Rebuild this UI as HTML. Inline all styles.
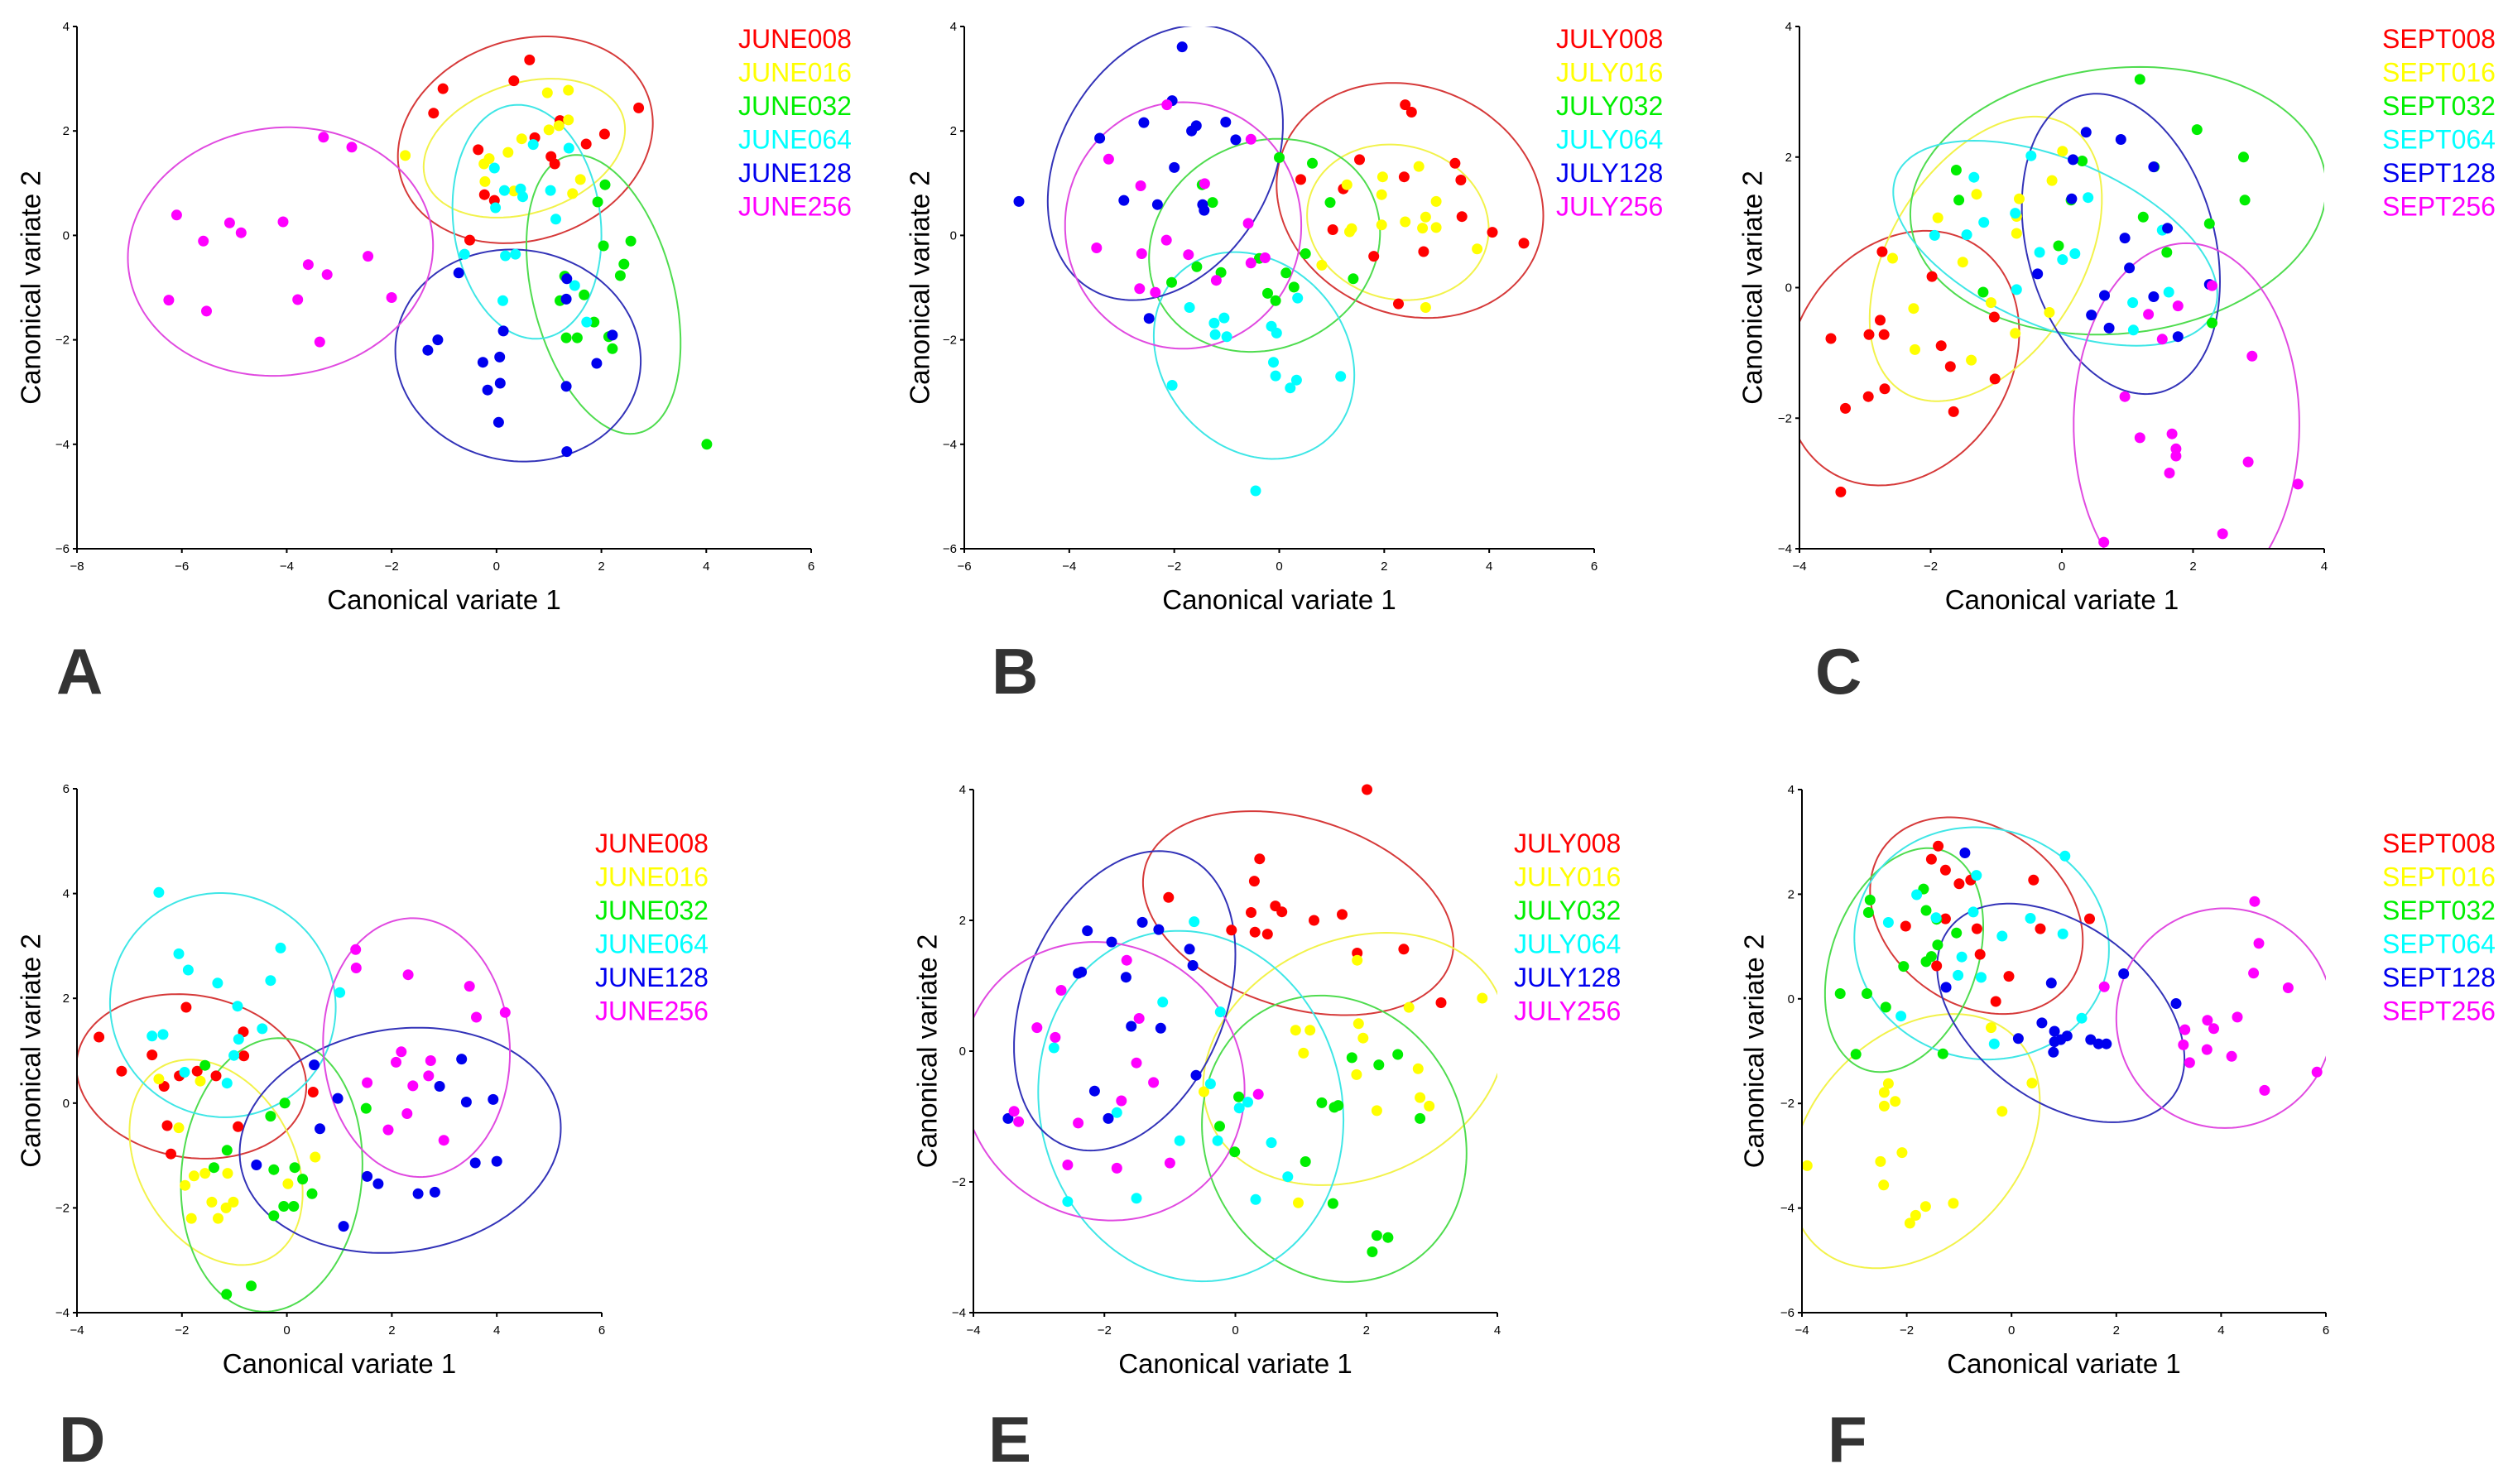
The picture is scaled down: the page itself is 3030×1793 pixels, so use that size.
<!DOCTYPE html>
<html><head><meta charset="utf-8"><style>
html,body{margin:0;padding:0;background:#fff;}
svg{display:block;font-family:"Liberation Sans",Arial,sans-serif;}
</style></head><body>
<svg id="fig" width="3030" height="1793" viewBox="0 0 3030 1793" xmlns="http://www.w3.org/2000/svg">
<rect width="3030" height="1793" fill="#fff"/>
</svg>
<script>
// ---------- DATA: points [x,y] per group ----------
const A_JUNE008=[[0.63,3.36],[0.33,2.96],[-1.02,2.81],[-1.20,2.34],[1.21,2.20],[2.71,2.44],[2.06,1.94],[0.73,1.87],[-0.35,1.64],[1.04,1.51],[1.11,1.37],[1.71,1.75],[-0.23,0.78],[-0.04,0.67],[-0.51,-0.09]];
const A_JUNE016=[[-1.74,1.53],[0.97,2.73],[1.37,2.78],[1.37,2.21],[1.19,2.10],[1.0,2.02],[0.48,1.85],[0.22,1.59],[-0.14,1.47],[-0.24,1.37],[-0.22,1.03],[1.60,1.07],[1.45,0.80],[0.33,0.85]];
const A_JUNE032=[[2.07,0.97],[1.93,0.64],[2.04,-0.20],[2.56,-0.11],[2.43,-0.55],[2.36,-0.77],[1.30,-0.78],[1.67,-1.14],[1.21,-1.25],[1.86,-1.66],[1.33,-1.96],[1.54,-1.96],[2.14,-1.94],[2.21,-2.17],[4.01,-4.0]];
const A_JUNE064=[[0.70,1.74],[1.38,1.67],[-0.04,1.29],[0.15,0.86],[0.46,0.89],[0.50,0.74],[1.03,0.86],[-0.02,0.53],[1.13,0.31],[-0.61,-0.36],[0.17,-0.39],[0.36,-0.36],[1.49,-0.96],[0.12,-1.25],[1.72,-1.66]];
const A_JUNE128=[[-0.72,-0.72],[1.34,-0.83],[1.33,-1.22],[0.13,-1.83],[-1.12,-2.0],[-1.31,-2.20],[-0.26,-2.43],[0.06,-2.33],[-0.17,-2.96],[0.07,-2.83],[0.04,-3.58],[1.33,-2.89],[1.91,-2.45],[2.21,-1.91],[1.34,-4.14]];
const A_JUNE256=[[-3.30,1.88],[-2.76,1.69],[-6.10,0.39],[-5.09,0.24],[-4.87,0.05],[-4.07,0.26],[-5.59,-0.11],[-3.59,-0.56],[-3.23,-0.75],[-2.45,-0.40],[-6.25,-1.24],[-5.53,-1.45],[-3.79,-1.23],[-2.0,-1.19],[-3.37,-2.04]];

const B_JULY008=[[2.40,2.50],[2.52,2.36],[1.53,1.45],[3.35,1.38],[3.46,1.06],[2.38,1.12],[0.41,1.07],[1.22,0.89],[3.48,0.36],[1.02,0.11],[4.06,0.06],[4.66,-0.15],[2.75,-0.31],[1.80,-0.40],[2.27,-1.31]];
const B_JULY016=[[2.66,1.32],[1.97,1.12],[1.29,0.97],[1.95,0.78],[2.99,0.65],[2.79,0.35],[1.95,0.20],[2.40,0.26],[2.73,0.14],[2.99,0.15],[1.38,0.13],[1.34,0.07],[3.77,-0.26],[0.81,-0.57],[2.79,-1.38]];
const B_JULY032=[[0,1.49],[0.63,1.38],[-1.47,0.97],[-1.27,0.63],[0.97,0.63],[0.50,-0.35],[-1.57,-0.60],[-1.11,-0.71],[0.13,-0.72],[-2.05,-0.90],[-0.22,-1.11],[0.28,-0.99],[-0.07,-1.25],[1.41,-0.83],[-0.38,-0.44]];
const B_JULY064=[[-1.71,-1.38],[-1.24,-1.68],[-1.05,-1.58],[-1.22,-1.90],[-1.0,-1.94],[-0.15,-1.74],[-0.05,-1.87],[0.35,-1.20],[-0.11,-2.43],[-0.07,-2.69],[0.21,-2.92],[0.33,-2.77],[1.17,-2.70],[-2.04,-2.87],[-0.45,-4.89]];
const B_JULY128=[[-1.85,3.61],[-2.04,2.58],[-2.58,2.16],[-1.58,2.10],[-1.67,2.0],[-1.02,2.17],[-0.83,1.83],[-3.42,1.86],[-2.0,1.30],[-2.96,0.67],[-2.32,0.59],[-1.46,0.59],[-1.43,0.48],[-4.96,0.65],[-2.48,-1.59]];
const B_JULY256=[[-2.14,2.50],[-0.54,1.84],[-3.25,1.46],[-1.42,0.99],[-2.64,0.95],[-0.59,0.23],[-2.15,-0.09],[-3.48,-0.24],[-2.62,-0.35],[-1.73,-0.37],[-0.54,-0.53],[-0.27,-0.43],[-1.20,-0.86],[-2.66,-1.02],[-2.36,-1.09]];

const C_SEPT008=[[-2.74,0.55],[-1.98,0.17],[-2.77,-0.50],[-2.94,-0.72],[-2.71,-0.72],[-3.52,-0.78],[-1.84,-0.89],[-1.03,-0.45],[-1.70,-1.21],[-1.02,-1.40],[-2.70,-1.55],[-2.95,-1.67],[-3.30,-1.85],[-1.65,-1.90],[-3.37,-3.13]];
const C_SEPT016=[[0.01,2.09],[-0.15,1.64],[-1.30,1.43],[-0.65,1.36],[-1.89,1.07],[-0.69,0.83],[-2.58,0.45],[-1.51,0.39],[-1.08,-0.23],[-2.26,-0.32],[-0.19,-0.38],[-2.24,-0.95],[-1.38,-1.11],[-0.71,-0.70],[-0.69,1.09]];
const C_SEPT032=[[1.19,3.19],[2.06,2.42],[2.77,2.0],[2.79,1.34],[0.31,1.94],[-1.61,1.80],[-1.57,1.34],[1.24,1.08],[2.25,0.98],[-0.05,0.64],[1.60,0.54],[-1.20,-0.07],[2.29,-0.54],[0.14,1.34],[1.41,1.85]];
const C_SEPT064=[[-0.47,2.02],[-1.34,1.69],[0.40,1.38],[-0.71,1.14],[-1.19,1.0],[-1.94,0.80],[-1.45,0.81],[-0.34,0.54],[0.20,0.52],[0.01,0.43],[-0.69,-0.03],[1.63,-0.07],[1.08,-0.23],[1.09,-0.65],[1.53,0.88]];
const C_SEPT128=[[0.37,2.38],[0.90,2.27],[0.17,1.96],[1.40,1.85],[0.15,1.36],[1.61,0.91],[0.96,0.76],[1.03,0.30],[-0.37,0.21],[2.25,0.05],[0.65,-0.12],[1.40,-0.14],[0.45,-0.42],[0.72,-0.62],[1.77,-0.75]];
const C_SEPT256=[[2.29,0.03],[1.77,-0.28],[1.32,-0.41],[1.53,-0.79],[2.90,-1.05],[0.96,-1.67],[1.19,-2.30],[1.68,-2.24],[1.74,-2.47],[1.74,-2.58],[2.84,-2.67],[1.64,-2.84],[3.60,-3.01],[2.45,-3.77],[0.64,-3.90]];

const D_JUNE008=[[-3.58,1.26],[-3.15,0.61],[-2.57,0.92],[-1.92,1.83],[-0.83,1.36],[-0.82,0.90],[-1.71,0.61],[-2.05,0.52],[-1.35,0.52],[-2.34,0.32],[-2.28,-0.43],[-0.93,-0.45],[-2.21,-0.97],[0.50,0.21]];
const D_JUNE016=[[-2.44,0.46],[-1.65,0.42],[-2.06,-0.47],[-1.94,-1.57],[-1.77,-1.39],[-1.56,-1.34],[-1.13,-1.34],[-1.43,-1.89],[-1.02,-1.89],[-1.16,-2.0],[-1.82,-2.20],[-1.31,-2.20],[0.02,-1.54],[0.54,-1.03]];
const D_JUNE032=[[-1.56,0.72],[-0.04,0],[-0.31,-0.25],[-1.14,-0.90],[-1.39,-1.23],[-0.25,-1.27],[0.15,-1.23],[0.30,-1.45],[0.48,-1.73],[-0.06,-1.97],[0.13,-1.97],[-0.25,-2.15],[-0.68,-3.49],[-1.15,-3.65],[1.51,-0.10]];
const D_JUNE064=[[-2.44,4.02],[-2.06,2.85],[-1.88,2.54],[-0.12,2.96],[-1.32,2.29],[-0.31,2.34],[-0.94,1.85],[-2.57,1.28],[-2.36,1.31],[-0.47,1.42],[-0.92,1.22],[-1.01,0.91],[-1.95,0.59],[-1.14,0.38],[1.01,2.11]];
const D_JUNE128=[[0.52,0.73],[0.97,0.09],[0.63,-0.49],[2.91,0.32],[3.33,0.84],[3.42,0.02],[3.93,0.07],[-0.58,-1.18],[1.53,-1.40],[1.74,-1.54],[2.50,-1.73],[2.82,-1.70],[3.59,-1.14],[4.0,-1.11],[1.08,-2.35]];
const D_JUNE256=[[1.31,2.93],[1.32,2.58],[2.31,2.45],[3.48,2.23],[3.61,1.64],[4.16,1.73],[2.18,0.98],[2.08,0.78],[2.74,0.81],[1.53,0.39],[2.40,0.33],[2.70,0.52],[2.29,-0.20],[1.93,-0.51],[2.99,-0.71]];

const E_JULY008=[[2.01,4.0],[0.37,2.94],[0.29,2.60],[-1.02,2.35],[0.61,2.22],[0.71,2.13],[0.24,2.12],[1.20,2.0],[1.63,2.09],[-0.06,1.85],[0.30,1.82],[0.49,1.79],[1.86,1.50],[2.57,1.56],[3.14,0.74]];
const E_JULY016=[[1.86,1.39],[2.65,0.67],[3.77,0.81],[1.88,0.42],[0.92,0.32],[1.14,0.32],[1.95,0.20],[1.04,-0.03],[1.85,-0.36],[2.79,-0.27],[2.82,-0.71],[2.96,-0.84],[2.16,-0.91],[0.96,-2.32],[-0.48,-0.62]];
const E_JULY032=[[1.78,-0.10],[2.19,-0.21],[2.48,-0.05],[1.32,-0.79],[1.51,-0.86],[1.57,-0.83],[0.05,-0.70],[-0.24,-1.15],[-0.01,-1.54],[1.07,-1.69],[2.82,-1.03],[1.49,-2.33],[2.16,-2.82],[2.33,-2.85],[2.09,-3.07]];
const E_JULY064=[[-0.63,1.98],[-1.11,0.75],[-0.23,0.60],[-2.77,0.05],[-0.38,-0.50],[0.06,-0.87],[0.19,-0.78],[-1.81,-0.94],[-0.85,-1.37],[-0.27,-1.37],[0.55,-1.40],[0.80,-1.92],[0.31,-2.27],[-1.51,-2.25],[-2.56,-2.30]];
const E_JULY128=[[-1.42,1.97],[-1.17,1.86],[-2.26,1.84],[-1.89,1.67],[-0.70,1.56],[-0.65,1.31],[-2.40,1.19],[-2.35,1.21],[-1.67,1.13],[-1.59,0.38],[-1.14,0.35],[-0.60,-0.37],[-2.15,-0.61],[-1.94,-1.03],[-3.47,-1.03]];
const E_JULY256=[[-1.66,1.39],[-2.66,0.93],[-3.03,0.36],[-2.75,0.21],[-1.47,0.50],[-1.51,-0.18],[-1.25,-0.48],[-1.74,-0.76],[0.35,-0.66],[-3.38,-0.92],[-3.31,-1.08],[-2.40,-1.10],[-2.56,-1.74],[-1.81,-1.79],[-1.0,-1.71]];

const F_SEPT008=[[-1.40,2.92],[-1.53,2.67],[-1.26,2.46],[-1.0,2.20],[-0.78,2.27],[0.42,2.27],[1.49,1.53],[-1.26,1.53],[-2.02,1.39],[-0.66,1.34],[0.55,1.34],[-0.60,0.85],[-1.43,0.63],[-0.05,0.43],[-0.30,-0.05]];
const F_SEPT016=[[-0.39,-0.55],[0.39,-1.61],[-0.18,-2.15],[-2.35,-1.62],[-2.43,-1.79],[-2.43,-2.05],[-2.22,-1.96],[-2.09,-2.94],[-2.50,-3.11],[-2.44,-3.56],[-1.11,-3.91],[-1.64,-3.97],[-1.83,-4.14],[-1.94,-4.29],[-3.90,-3.19]];
const F_SEPT032=[[-1.68,2.10],[-2.70,1.89],[-2.73,1.65],[-1.63,1.69],[-1.43,1.52],[-1.05,1.26],[-1.41,1.03],[-1.53,0.81],[-1.63,0.71],[-2.06,0.62],[-3.27,0.10],[-2.76,0.10],[-2.40,-0.16],[-2.97,-1.06],[-1.31,-1.05]];
const F_SEPT064=[[1.02,2.73],[-0.67,2.36],[-1.81,1.99],[-0.73,1.66],[-2.35,1.46],[-1.44,1.55],[0.36,1.54],[0.98,1.24],[-0.18,1.20],[-0.95,0.80],[-1.02,0.45],[-0.58,0.41],[-2.11,-0.33],[1.34,-0.37],[-0.33,-0.86]];
const F_SEPT128=[[-0.89,2.79],[-1.25,0.22],[0.76,0.30],[2.14,0.48],[3.14,-0.09],[0.58,-0.46],[0.13,-0.76],[0.82,-0.62],[0.80,-1.02],[0.82,-0.82],[0.94,-0.78],[1.06,-0.71],[1.51,-0.78],[1.66,-0.86],[1.81,-0.86]];
const F_SEPT256=[[4.64,1.86],[4.72,1.06],[4.62,0.49],[5.28,0.21],[1.77,0.23],[3.31,-0.59],[3.74,-0.41],[3.86,-0.57],[4.31,-0.35],[3.28,-0.88],[3.73,-0.97],[4.20,-1.10],[3.40,-1.22],[5.83,-1.40],[4.83,-1.75]];

// ---------- DATA: ellipses [cx, cy, sx, sy, rho] per group ----------
const A_ELLIPSES=[[0.55,1.83,2.43,1.98,0.16],[0.53,1.67,1.92,1.33,0.27],[2.04,-1.13,1.47,2.67,-0.35],[0.58,0.26,1.42,2.24,-0.12],[0.41,-2.30,2.34,2.03,-0.05],[-4.12,-0.31,2.91,2.38,0.05]];
const B_ELLIPSES=[[2.49,0.67,2.54,2.25,-0.13],[2.26,0.25,1.73,1.49,-0.09],[-0.28,-0.19,2.20,2.04,0.12],[-0.48,-2.30,1.91,1.98,-0.19],[-2.17,1.39,2.24,2.63,0.28],[-1.83,0.19,2.25,2.36,0.0]];
const C_ELLIPSES=[[-2.43,-1.08,1.78,1.95,0.2],[-1.16,0.44,1.77,2.18,0.42],[0.86,1.33,3.17,2.05,0.1],[-0.10,0.68,2.47,1.57,-0.5],[0.90,0.67,1.51,2.30,-0.25],[1.90,-2.10,1.72,2.78,0.0]];
const D_ELLIPSES=[[-1.82,0.51,2.19,1.57,-0.12],[-1.35,-1.13,1.65,1.96,-0.3],[-0.29,-1.37,1.73,2.61,0.08],[-1.22,1.87,2.15,2.14,-0.02],[2.16,-0.71,3.06,2.15,0.11],[2.47,1.06,1.78,2.47,-0.04]];
const E_ELLIPSES=[[0.96,2.11,2.37,1.56,-0.3],[1.82,-0.12,2.31,1.93,0.21],[1.51,-1.34,2.02,2.19,-0.1],[-0.68,-0.84,2.33,2.68,-0.08],[-1.69,0.77,1.69,2.29,0.31],[-2.02,-0.46,2.16,2.13,-0.06]];
const F_ELLIPSES=[[-0.67,1.59,2.03,1.88,-0.25],[-1.84,-2.72,2.38,2.43,0.31],[-2.05,0.74,1.51,2.14,0.3],[-0.57,1.06,2.43,2.22,-0.05],[0.94,-0.27,2.36,2.09,-0.42],[4.07,-0.37,2.07,2.10,0.0]];

// ---------- group labels & tick values ----------
const JUNE_LABELS=["JUNE008","JUNE016","JUNE032","JUNE064","JUNE128","JUNE256"];
const JULY_LABELS=["JULY008","JULY016","JULY032","JULY064","JULY128","JULY256"];
const SEPT_LABELS=["SEPT008","SEPT016","SEPT032","SEPT064","SEPT128","SEPT256"];
const A_XTICKS=[-8,-6,-4,-2,0,2,4,6], A_YTICKS=[-6,-4,-2,0,2,4];
const B_XTICKS=[-6,-4,-2,0,2,4,6], B_YTICKS=[-6,-4,-2,0,2,4];
const C_XTICKS=[-4,-2,0,2,4], C_YTICKS=[-4,-2,0,2,4];
const D_XTICKS=[-4,-2,0,2,4,6], D_YTICKS=[-4,-2,0,2,4,6];
const E_XTICKS=[-4,-2,0,2,4], E_YTICKS=[-4,-2,0,2,4];
const F_XTICKS=[-4,-2,0,2,4,6], F_YTICKS=[-6,-4,-2,0,2,4];

// ---------- styles ----------
const DOT_COLORS=["#ff0000","#ffff00","#00ee00","#00ffff","#0000ee","#ff00ff"];
const LINE_COLORS=["#d63a3a","#f2f24a","#4fdc4f","#3fe6e6","#3333b8","#e04ae0"];

const NS="http://www.w3.org/2000/svg";
const svg=document.getElementById('fig');
function mk(tag,attrs,parent){const e=document.createElementNS(NS,tag);for(const k in attrs)e.setAttribute(k,attrs[k]);(parent||svg).appendChild(e);return e;}

const panels=[
 {id:'a',letter:'A',px0:93,px1:980,py0:32,py1:663,xd:[-8,6],yd:[-6,4],xt:A_XTICKS,yt:A_YTICKS,groups:[A_JUNE008,A_JUNE016,A_JUNE032,A_JUNE064,A_JUNE128,A_JUNE256],ell:A_ELLIPSES,labels:JUNE_LABELS,lx:892,ly:47,ytx:37,lpx:68,lpy:811},
 {id:'b',letter:'B',px0:1165,px1:1926,py0:32,py1:663,xd:[-6,6],yd:[-6,4],xt:B_XTICKS,yt:B_YTICKS,groups:[B_JULY008,B_JULY016,B_JULY032,B_JULY064,B_JULY128,B_JULY256],ell:B_ELLIPSES,labels:JULY_LABELS,lx:1880,ly:47,ytx:1111,lpx:1198,lpy:811},
 {id:'c',letter:'C',px0:2174,px1:2808,py0:32,py1:663,xd:[-4,4],yd:[-4,4],xt:C_XTICKS,yt:C_YTICKS,groups:[C_SEPT008,C_SEPT016,C_SEPT032,C_SEPT064,C_SEPT128,C_SEPT256],ell:C_ELLIPSES,labels:SEPT_LABELS,lx:2878,ly:47,ytx:2117,lpx:2193,lpy:811},
 {id:'d',letter:'D',px0:93,px1:727,py0:953,py1:1586,xd:[-4,6],yd:[-4,6],xt:D_XTICKS,yt:D_YTICKS,groups:[D_JUNE008,D_JUNE016,D_JUNE032,D_JUNE064,D_JUNE128,D_JUNE256],ell:D_ELLIPSES,labels:JUNE_LABELS,lx:719,ly:1019,ytx:37,lpx:71,lpy:1739},
 {id:'e',letter:'E',px0:1176,px1:1809,py0:954,py1:1586,xd:[-4,4],yd:[-4,4],xt:E_XTICKS,yt:E_YTICKS,groups:[E_JULY008,E_JULY016,E_JULY032,E_JULY064,E_JULY128,E_JULY256],ell:E_ELLIPSES,labels:JULY_LABELS,lx:1829,ly:1019,ytx:1120,lpx:1194,lpy:1739},
 {id:'f',letter:'F',px0:2177,px1:2810,py0:954,py1:1586,xd:[-4,6],yd:[-6,4],xt:F_XTICKS,yt:F_YTICKS,groups:[F_SEPT008,F_SEPT016,F_SEPT032,F_SEPT064,F_SEPT128,F_SEPT256],ell:F_ELLIPSES,labels:SEPT_LABELS,lx:2878,ly:1019,ytx:2119,lpx:2208,lpy:1739}
];

const defs=mk('defs',{});
panels.forEach(p=>{
  const X=v=>p.px0+(v-p.xd[0])/(p.xd[1]-p.xd[0])*(p.px1-p.px0);
  const Y=v=>p.py1-(v-p.yd[0])/(p.yd[1]-p.yd[0])*(p.py1-p.py0);
  const g=mk('g',{});
  
  
  const cp=mk('clipPath',{id:'clip-'+p.id},defs);
  mk('rect',{x:p.px0,y:p.py0,width:p.px1-p.px0,height:p.py1-p.py0},cp);

  const eg=mk('g',{'clip-path':'url(#clip-'+p.id+')'},g);
  p.ell.forEach((e,i)=>{
    const [cx,cy,sx,sy,rho]=e;const q=Math.sqrt(1-rho*rho);
    let d='';
    for(let k=0;k<=180;k++){const t=k/180*2*Math.PI;
      const x=cx+sx*Math.cos(t), y=cy+sy*(rho*Math.cos(t)+q*Math.sin(t));
      d+=(k?'L':'M')+X(x).toFixed(1)+','+Y(y).toFixed(1);}
    const path=mk('path',{d:d+'Z',fill:'none',stroke:LINE_COLORS[i],'stroke-width':2},eg);
    
    
  });
  p.groups.forEach((pts,i)=>{
    const pg=mk('g',{fill:DOT_COLORS[i]},g);
    
    
    pts.forEach(pt=>{
      const c=mk('circle',{cx:X(pt[0]).toFixed(1),cy:Y(pt[1]).toFixed(1),r:6.5},pg);
      
      
    });
  });
  const ax=mk('g',{stroke:'#000','stroke-width':2},g);
  
  
  mk('line',{x1:p.px0,y1:p.py0,x2:p.px0,y2:p.py1},ax);
  mk('line',{x1:p.px0,y1:p.py1,x2:p.px1,y2:p.py1},ax);
  p.xt.forEach(v=>{
    mk('line',{x1:X(v),y1:p.py1,x2:X(v),y2:p.py1+5},ax);
    const t=mk('text',{x:X(v),y:p.py1+26,'font-size':15,'text-anchor':'middle',fill:'#000'},g);
    t.textContent=String(v).replace('-','\u2212');
    
    
  });
  p.yt.forEach(v=>{
    mk('line',{x1:p.px0-5,y1:Y(v),x2:p.px0,y2:Y(v)},ax);
    const t=mk('text',{x:p.px0-9,y:Y(v)+5,'font-size':15,'text-anchor':'end',fill:'#000'},g);
    t.textContent=String(v).replace('-','\u2212');
    
    
  });
  const xt=mk('text',{x:(p.px0+p.px1)/2,y:p.py1+73,'font-size':33,'text-anchor':'middle',fill:'#000'},g);
  xt.textContent='Canonical variate 1';
  
  
  const ym=(p.py0+p.py1)/2;
  const yt=mk('text',{x:p.ytx,y:ym,'font-size':33,'text-anchor':'middle','dominant-baseline':'central',fill:'#000',transform:'rotate(-90 '+p.ytx+' '+ym+')'},g);
  yt.textContent='Canonical variate 2';
  
  
  p.labels.forEach((lab,i)=>{
    const t=mk('text',{x:p.lx,y:p.ly+i*40.5,'font-size':32,'dominant-baseline':'central',fill:DOT_COLORS[i]},g);
    t.textContent=lab;
    
    
  });
  const L=mk('text',{x:p.lpx,y:p.lpy,'font-size':78,'font-weight':'bold','dominant-baseline':'central',fill:'#333'},g);
  L.textContent=p.letter;
  
  
});
</script>
</body></html>
